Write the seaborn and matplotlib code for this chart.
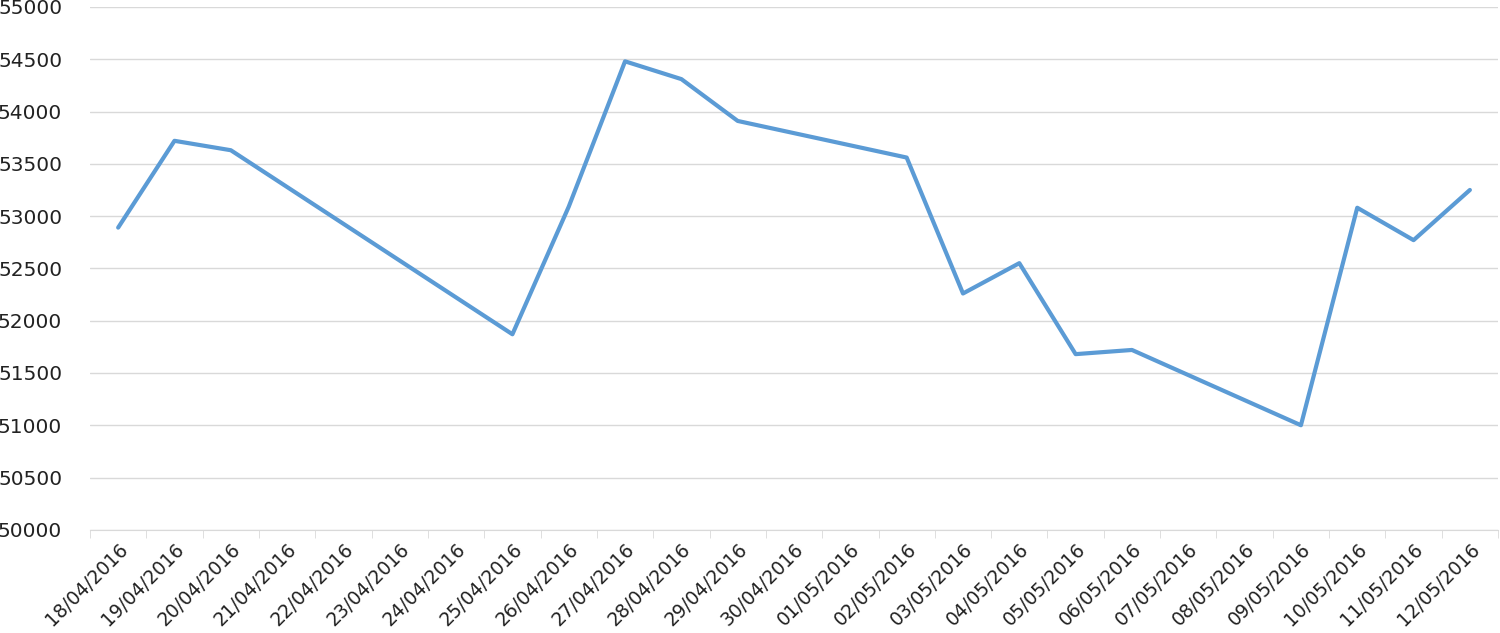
import numpy as np
import pandas as pd
import matplotlib.pyplot as plt
import seaborn as sns

sns.set_style("white")
plt.rcParams['font.family'] = ['DejaVu Sans']

# trading days and closing values
dates = ["18/04/2016", "19/04/2016", "20/04/2016", "25/04/2016", "26/04/2016",
         "27/04/2016", "28/04/2016", "29/04/2016", "02/05/2016", "03/05/2016",
         "04/05/2016", "05/05/2016", "06/05/2016", "09/05/2016", "10/05/2016",
         "11/05/2016", "12/05/2016"]
values = [52890, 53720, 53630, 51870, 53090, 54480, 54310, 53910, 53560, 52260,
          52550, 51680, 51720, 51000, 53080, 52770, 53250]

# every calendar day shown on the axis
axis_days = pd.date_range("2016-04-18", "2016-05-12", freq="D")
tick_labels = [d.strftime("%d/%m/%Y") for d in axis_days]

df = pd.DataFrame({"date": pd.to_datetime(dates, format="%d/%m/%Y"), "value": values})
df["day"] = (df["date"] - axis_days[0]).dt.days

fig = plt.figure(figsize=(15, 6.33), dpi=100)
ax = fig.add_axes([0.06, 0.163, 0.9387, 0.826])

sns.lineplot(data=df, x="day", y="value", ax=ax, color="#5B9BD5", linewidth=3)

n = len(axis_days)
ax.set_xlim(-0.5, n - 0.5)
ax.set_ylim(50000, 55000)
ax.set_yticks(np.arange(50000, 55001, 500))
ax.tick_params(axis="y", length=0, labelsize=14.5, colors="#222222", pad=20)
ax.yaxis.grid(True, color="#d9d9d9", linewidth=1)
ax.set_axisbelow(True)

ax.set_xticks(np.arange(n))
ax.set_xticklabels(tick_labels, rotation=45, ha="right", rotation_mode="anchor",
                   fontsize=13.5, color="#222222")
ax.set_xticks(np.arange(n + 1) - 0.5, minor=True)
ax.tick_params(axis="x", which="major", length=0, pad=7)
ax.tick_params(axis="x", which="minor", length=6, color="#d9d9d9", bottom=True)

for s in ["left", "right", "top"]:
    ax.spines[s].set_visible(False)
ax.spines["bottom"].set_color("#d9d9d9")
ax.set_xlabel("")
ax.set_ylabel("")

fig.savefig("out.png", dpi=100)
